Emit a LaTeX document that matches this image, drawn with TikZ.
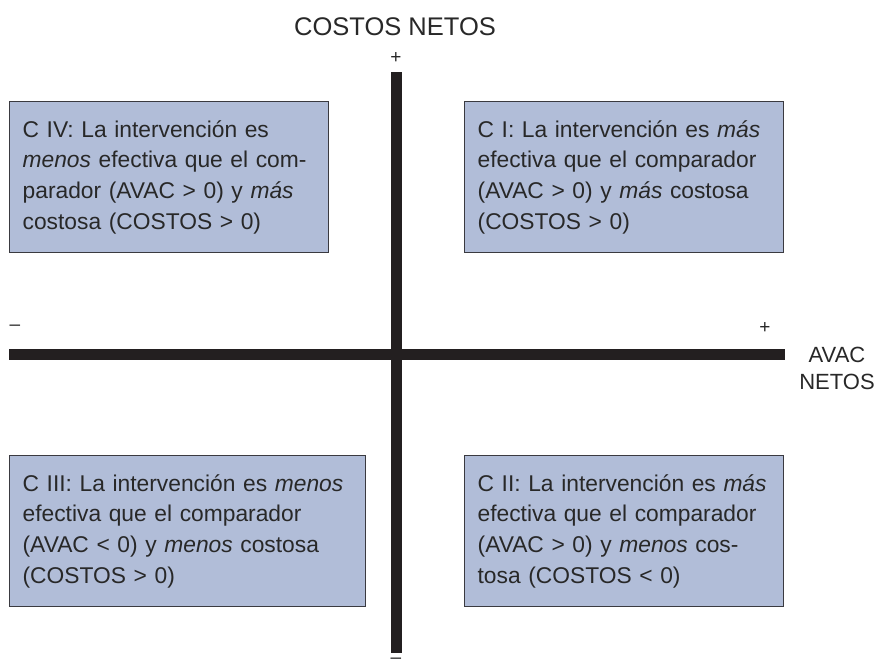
\documentclass[tikz,border=0pt]{standalone}
\usepackage{fontspec}
\setmainfont{Liberation Sans}
\usetikzlibrary{positioning}
\definecolor{boxfill}{RGB}{177,189,216}
\definecolor{boxline}{RGB}{58,58,64}
\definecolor{inktext}{RGB}{40,40,40}
\definecolor{barink}{RGB}{35,31,32}
\tikzset{
  quadbox/.style={draw=boxline, fill=boxfill, line width=1.3pt, align=left,
    anchor=north west, inner xsep=13pt, minimum height=151pt,
    text=inktext, font=\fontsize{22.8}{30.7}\selectfont},
  axisbar/.style={barink, line width=11pt},
  axlbl/.style={text=inktext, font=\fontsize{22}{27}\selectfont, inner sep=0pt},
  signlbl/.style={text=inktext, font=\fontsize{19}{19}\selectfont, inner sep=0pt}
}

\begin{document}
\begin{tikzpicture}[x=1pt,y=-1pt]
\useasboundingbox (0,0) rectangle (880,669);
% axes
\coordinate (ytop) at (396,72);
\coordinate (ybot) at (396,653);
\coordinate (xleft) at (9,354);
\coordinate (xright) at (785,354);
\draw[axisbar] (ytop) -- (ybot);
\draw[axisbar] (xleft) -- (xright);
% axis labels
\node[axlbl, font=\fontsize{25.5}{27}\selectfont] (costos) at (395,27) {COSTOS NETOS};
\node[signlbl] (ymas) at (396,58) {+};
\node[signlbl] (ymenos) at (396,661) {–};
\node[signlbl] (xmenos) at (15,328) {–};
\node[signlbl] (xmas) at (765,328) {+};
\node[axlbl, align=center] (avac) at (837,368) {AVAC\\NETOS};
% quadrants
\node[quadbox, text width=293pt] (cIV) at (9,101)
  {C IV: La intervención es\\\textit{menos} efectiva que el com-\\parador (AVAC > 0) y \textit{más}\\costosa (COSTOS > 0)};
\node[quadbox, text width=293pt] (cI) at (464,101)
  {C I: La intervención es \textit{más}\\efectiva que el comparador\\(AVAC > 0) y \textit{más} costosa\\(COSTOS > 0)};
\node[quadbox, text width=330pt] (cIII) at (9,455)
  {C III: La intervención es \textit{menos}\\efectiva que el comparador\\(AVAC < 0) y \textit{menos} costosa\\(COSTOS > 0)};
\node[quadbox, text width=293pt] (cII) at (464,455)
  {C II: La intervención es \textit{más}\\efectiva que el comparador\\(AVAC > 0) y \textit{menos} cos-\\tosa (COSTOS < 0)};
\end{tikzpicture}
\end{document}
